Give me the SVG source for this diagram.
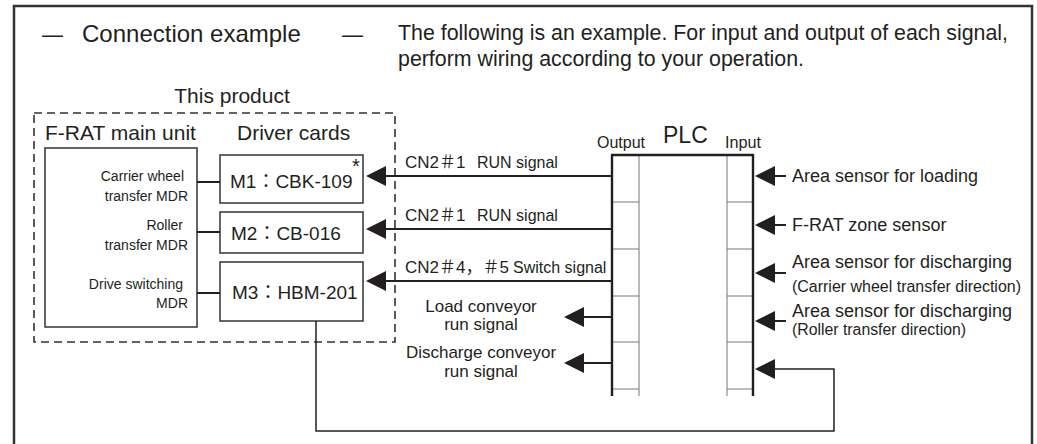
<svg xmlns="http://www.w3.org/2000/svg" width="1037" height="444" viewBox="0 0 1037 444">
<defs>
<marker id="ah" viewBox="0 0 20 20" refX="16" refY="10" markerWidth="20" markerHeight="20" markerUnits="userSpaceOnUse" orient="auto"><path d="M0,0 L20,10 L0,20 Z" fill="#231f20"/></marker>
</defs>
<style>
text{font-family:"Liberation Sans","Noto Sans CJK JP",sans-serif;fill:#231f20}
.box{fill:none;stroke:#333;stroke-width:1.5}
.wire{fill:none;stroke:#231f20;stroke-width:2}
.arr{fill:none;stroke:#231f20;stroke-width:2;marker-end:url(#ah)}
.thin{fill:none;stroke:#777;stroke-width:1}
.lbl{font-size:14px;text-anchor:end}
.card{font-size:19px}
.sig{font-size:16px}
.cn{font-size:17px}
.sen{font-size:18px}
.sub{font-size:16px}
.conv{font-size:17px;text-anchor:middle}
</style>

<g id="frame">
<path d="M14,444 V6 H1032 V444" fill="none" stroke="#333" stroke-width="2.5"/>
</g>

<g id="title">
<text x="42" y="42" font-size="24" textLength="21" lengthAdjust="spacingAndGlyphs">—</text>
<text x="82" y="42" font-size="24">Connection example</text>
<text x="342" y="42" font-size="24" textLength="21" lengthAdjust="spacingAndGlyphs">—</text>
<text x="398" y="40" font-size="21.5" textLength="610" lengthAdjust="spacingAndGlyphs">The following is an example. For input and output of each signal,</text>
<text x="398" y="66" font-size="21.5" textLength="406" lengthAdjust="spacingAndGlyphs">perform wiring according to your operation.</text>
</g>

<g id="product">
<text x="232" y="103" font-size="21" text-anchor="middle">This product</text>
<rect x="34" y="113" width="361" height="229" fill="none" stroke="#333" stroke-width="1.6" stroke-dasharray="8,5"/>
<text x="45" y="140" font-size="21">F-RAT main unit</text>
<text x="237" y="140" font-size="21">Driver cards</text>
</g>

<g id="main-unit">
<rect class="box" x="45" y="148" width="152" height="179"/>
<text class="lbl" x="184" y="181">Carrier wheel</text>
<text class="lbl" x="188" y="201">transfer MDR</text>
<text class="lbl" x="183" y="230">Roller</text>
<text class="lbl" x="188" y="250">transfer MDR</text>
<text class="lbl" x="183" y="289">Drive switching</text>
<text class="lbl" x="188" y="308">MDR</text>
</g>

<g id="card-m1">
<rect class="box" x="220" y="155" width="143" height="48"/>
<text class="card" x="230" y="188">M1：CBK-109</text>
<text x="352" y="173" font-size="20">*</text>
</g>
<g id="card-m2">
<rect class="box" x="220" y="212" width="143" height="41"/>
<text class="card" x="231" y="240">M2：CB-016</text>
</g>
<g id="card-m3">
<rect class="box" x="220" y="262" width="143" height="59"/>
<text class="card" x="232" y="299">M3：HBM-201</text>
</g>

<g id="plc">
<text x="597" y="148" font-size="16" textLength="48" lengthAdjust="spacingAndGlyphs">Output</text>
<text x="663" y="143" font-size="23">PLC</text>
<text x="725" y="148" font-size="16" textLength="36" lengthAdjust="spacingAndGlyphs">Input</text>
<path class="thin" d="M639,155 V396 M727,155 V396 M612,202 H639 M612,249 H639 M612,296 H639 M612,342 H639 M612,389 H639 M727,202 H753 M727,249 H753 M727,296 H753 M727,342 H753 M727,389 H753"/>
<path d="M612,396 V155 H753 V396" fill="none" stroke="#231f20" stroke-width="2.4"/>
</g>

<g id="connectors">
<path class="wire" d="M197,182 H220 M197,232 H220 M197,293 H220"/>
<path class="arr" d="M612,176 H370"/>
<path class="arr" d="M612,229 H370"/>
<path class="arr" d="M612,281 H370"/>
<path class="arr" d="M612,317 H568"/>
<path class="arr" d="M612,363 H568"/>
<path class="arr" d="M786,176 H759"/>
<path class="arr" d="M786,225 H759"/>
<path class="arr" d="M786,273 H759"/>
<path class="arr" d="M786,321 H759"/>
<path class="arr" d="M316,321 V431 H834 V369 H759" style="stroke-width:1.5"/>
</g>

<g id="signal-labels">
<text x="405" y="168"><tspan class="cn">CN2＃1</tspan><tspan class="sig" x="477">RUN signal</tspan></text>
<text x="405" y="221"><tspan class="cn">CN2＃1</tspan><tspan class="sig" x="477">RUN signal</tspan></text>
<text x="405" y="273"><tspan class="cn">CN2＃4，＃5</tspan><tspan class="sig" x="513">Switch signal</tspan></text>
<text class="conv" x="481" y="312">Load conveyor</text>
<text class="conv" x="481" y="330">run signal</text>
<text class="conv" x="481" y="358">Discharge conveyor</text>
<text class="conv" x="481" y="377">run signal</text>
</g>

<g id="sensor-labels">
<text class="sen" x="792" y="182">Area sensor for loading</text>
<text class="sen" x="792" y="231">F-RAT zone sensor</text>
<text class="sen" x="792" y="268">Area sensor for discharging</text>
<text class="sub" x="792" y="292" textLength="229" lengthAdjust="spacingAndGlyphs">(Carrier wheel transfer direction)</text>
<text class="sen" x="792" y="317">Area sensor for discharging</text>
<text class="sub" x="792" y="335" textLength="174" lengthAdjust="spacingAndGlyphs">(Roller transfer direction)</text>
</g>
</svg>
